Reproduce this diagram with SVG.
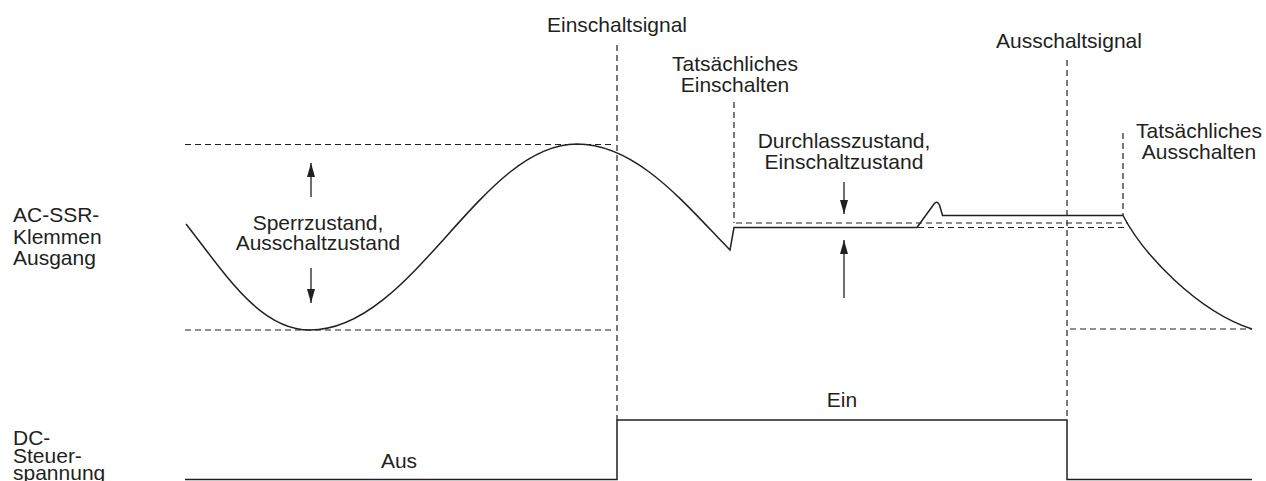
<svg xmlns="http://www.w3.org/2000/svg" width="1266" height="481" viewBox="0 0 1266 481">
  <style>
    text { font-family: "Liberation Sans", Arial, sans-serif; font-size: 21px; fill: #231f20; }
    .mid { text-anchor: middle; }
    .dash { fill: none; stroke: #231f20; stroke-width: 1.2; stroke-dasharray: 6 4; }
    .wave { fill: none; stroke: #231f20; stroke-width: 1.5; stroke-linejoin: miter; }
    .arr { fill: none; stroke: #231f20; stroke-width: 1.3; marker-end: url(#ah); }
  </style>
  <defs>
    <marker id="ah" viewBox="0 0 14 8" refX="14" refY="4" markerWidth="14" markerHeight="8" markerUnits="userSpaceOnUse" orient="auto">
      <path d="M0,0 L14,4 L0,8 z" fill="#231f20"/>
    </marker>
  </defs>
  <rect width="1266" height="481" fill="#ffffff"/>

  <g id="guides">
    <line class="dash" x1="185" y1="144.5" x2="613" y2="144.5"/>
    <line class="dash" x1="185" y1="330" x2="613" y2="330"/>
    <line class="dash" x1="1070" y1="329" x2="1252" y2="329"/>
    <line class="dash" x1="736" y1="223" x2="1128" y2="223"/>
    <line class="dash" x1="918" y1="227.5" x2="1128" y2="227.5"/>
    <line class="dash" x1="617" y1="45" x2="617" y2="420"/>
    <line class="dash" x1="734" y1="102" x2="734" y2="223"/>
    <line class="dash" x1="1067" y1="60" x2="1067" y2="420"/>
    <line class="dash" x1="1123" y1="133" x2="1123" y2="215"/>
  </g>

  <g id="ac-output">
    <path class="wave" d="M186,224 C226,275 260,330 310,330 C413,330 480,144 577,144 C637,144 685,204 730,250 L734,227.5 L917,227.5 L934,204 Q937,200 939.5,205 L942.5,215.5 L1123,215.5 C1143,254 1197,311 1252,329"/>
  </g>

  <g id="dc-control">
    <path class="wave" d="M185,479.5 L617,479.5 L617,420 L1067,420 L1067,479.5 L1252,479.5"/>
  </g>

  <g id="connectors">
    <line class="arr" x1="311" y1="197" x2="311" y2="163"/>
    <line class="arr" x1="311" y1="268" x2="311" y2="303"/>
    <line class="arr" x1="844" y1="182" x2="844" y2="214"/>
    <line class="arr" x1="844" y1="298" x2="844" y2="240"/>
  </g>

  <g id="label-einschaltsignal"><text class="mid" x="617" y="32">Einschaltsignal</text></g>
  <g id="label-tats-ein">
    <text class="mid" x="735" y="71">Tatsächliches</text>
    <text class="mid" x="735" y="92">Einschalten</text>
  </g>
  <g id="label-ausschaltsignal"><text class="mid" x="1069" y="48">Ausschaltsignal</text></g>
  <g id="label-tats-aus">
    <text class="mid" x="1199" y="138">Tatsächliches</text>
    <text class="mid" x="1199" y="159">Ausschalten</text>
  </g>
  <g id="label-durchlass">
    <text class="mid" x="844" y="148">Durchlasszustand,</text>
    <text class="mid" x="844" y="169">Einschaltzustand</text>
  </g>
  <g id="label-sperr">
    <text class="mid" x="318" y="230">Sperrzustand,</text>
    <text class="mid" x="318" y="250">Ausschaltzustand</text>
  </g>
  <g id="label-ac">
    <text x="13" y="222">AC-SSR-</text>
    <text x="13" y="243.5">Klemmen</text>
    <text x="13" y="265">Ausgang</text>
  </g>
  <g id="label-dc">
    <text x="13" y="445">DC-</text>
    <text x="13" y="462.5">Steuer-</text>
    <text x="13" y="480">spannung</text>
  </g>
  <g id="label-ein"><text class="mid" x="842" y="407">Ein</text></g>
  <g id="label-aus"><text class="mid" x="399" y="468">Aus</text></g>
</svg>
